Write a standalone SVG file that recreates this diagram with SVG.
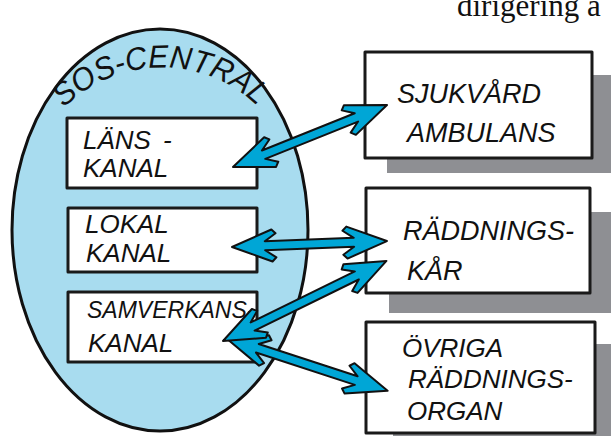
<svg xmlns="http://www.w3.org/2000/svg" width="611" height="436" viewBox="0 0 611 436">
<style>
.box{fill:#fff;stroke:#1a1a1a;stroke-width:3;stroke-linejoin:round}
.shadow{fill:#8e8f93}
.hand{font-family:"Liberation Sans",Arial,sans-serif;font-style:italic;fill:#111}
.arrow{fill:#00a6d6;stroke:#111;stroke-width:2;stroke-linejoin:round}
</style>
<defs>
<path id="arc" d="M 64 108 A 138 138 0 0 1 264 113"/>
</defs>
<text x="457" y="16" font-family="'Liberation Serif','Times New Roman',serif" font-size="31" fill="#111">dirigering a</text>

<g id="sos-central">
<ellipse cx="160" cy="230" rx="148" ry="201" fill="#a8dcef" stroke="#111" stroke-width="3"/>
<text class="hand" font-size="32"><textPath href="#arc" textLength="214" lengthAdjust="spacingAndGlyphs">SOS-CENTRAL</textPath></text>
</g>

<g id="lans-kanal">
<rect class="box" x="67" y="118" width="190" height="70"/>
<text class="hand" font-size="26" x="83" y="149">LÄNS<tspan dx="12">-</tspan></text>
<text class="hand" font-size="26" x="83" y="177">KANAL</text>
</g>

<g id="lokal-kanal">
<rect class="box" x="68" y="208" width="189" height="64"/>
<text class="hand" font-size="26" x="85" y="233">LOKAL</text>
<text class="hand" font-size="26" x="86" y="262">KANAL</text>
</g>

<g id="samverkans-kanal">
<rect class="box" x="68" y="292" width="189" height="70"/>
<text class="hand" font-size="23" x="87" y="318">SAMVERKANS-</text>
<text class="hand" font-size="26" x="88" y="352">KANAL</text>
</g>

<g id="sjukvard">
<rect class="shadow" x="387" y="75" width="224" height="98"/>
<rect class="box" x="365" y="52" width="227" height="106"/>
<text class="hand" font-size="27" x="397" y="103">SJUKVÅRD</text>
<text class="hand" font-size="27" x="407" y="142">AMBULANS</text>
</g>

<g id="raddningskar">
<rect class="shadow" x="389" y="212" width="222" height="101"/>
<rect class="box" x="366" y="188" width="224" height="105"/>
<text class="hand" font-size="27" x="403" y="240">RÄDDNINGS-</text>
<text class="hand" font-size="27" x="407" y="280">KÅR</text>
</g>

<g id="ovriga">
<rect class="shadow" x="393" y="344" width="218" height="92"/>
<rect class="box" x="366" y="322" width="229" height="111"/>
<text class="hand" font-size="26" x="402" y="357">ÖVRIGA</text>
<text class="hand" font-size="26" x="408" y="388">RÄDDNINGS-</text>
<text class="hand" font-size="26" x="407" y="420">ORGAN</text>
</g>

<g id="connectors">
<polygon class="arrow" transform="translate(233,167) rotate(-21.9)" points="0,0 40,-16 44,-12 33,-4.5 133,-4.5 122,-12 126,-16 166,0 126,16 122,12 133,4.5 33,4.5 44,12 40,16"/>
<polygon class="arrow" transform="translate(232,247) rotate(-2.2)" points="0,0 40,-16 44,-12 33,-4.5 122,-4.5 111,-12 115,-16 155,0 115,16 111,12 122,4.5 33,4.5 44,12 40,16"/>
<polygon class="arrow" transform="translate(226,338) rotate(18.1)" points="0,0 40,-16 44,-12 33,-4.5 137,-4.5 126,-12 130,-16 170,0 130,16 126,12 137,4.5 33,4.5 44,12 40,16"/>
<polygon class="arrow" transform="translate(223,341) rotate(-26.1)" points="0,0 40,-16 44,-12 33,-4.5 149,-4.5 138,-12 142,-16 182,0 142,16 138,12 149,4.5 33,4.5 44,12 40,16"/>
</g>
</svg>
